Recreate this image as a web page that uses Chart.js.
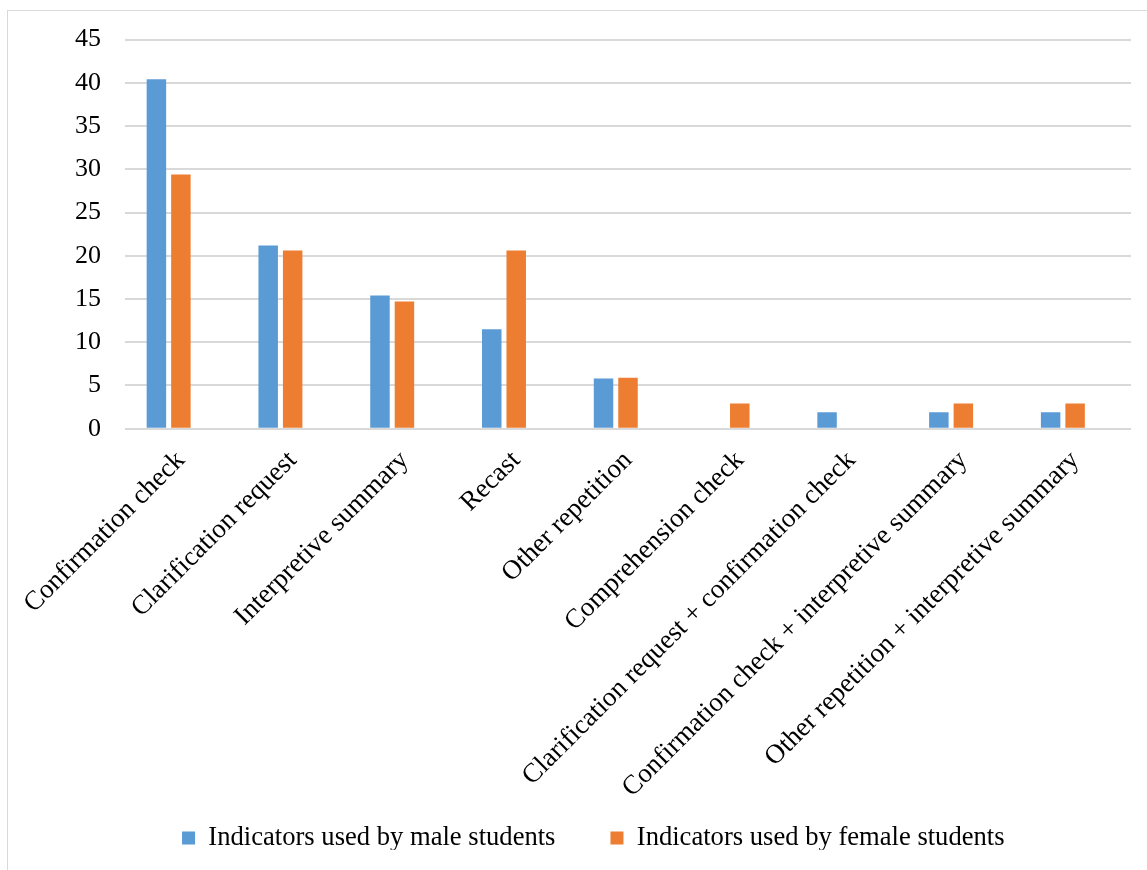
<!DOCTYPE html>
<html>
<head>
<meta charset="utf-8">
<script src="https://cdn.jsdelivr.net/npm/chart.js@4.4.1/dist/chart.umd.min.js"></script>
<style>
  html, body { margin: 0; padding: 0; background: #ffffff; overflow: hidden; }
  #frame {
    position: absolute; left: 7px; top: 10px; width: 1200px; height: 960px;
    border: 1px solid #d9d9d9; box-sizing: border-box;
  }
  #wrap { position: absolute; left: 0; top: 0; width: 1147px; height: 870px; }
</style>
</head>
<body>
<div id="frame"></div>
<div id="wrap"><canvas id="chart" width="1147" height="870"></canvas></div>
<script>
// Negotiation indicators by student gender
const categories = [
  'Confirmation check',
  'Clarification request',
  'Interpretive summary',
  'Recast',
  'Other repetition',
  'Comprehension check',
  'Clarification request + confirmation check',
  'Confirmation check + interpretive summary',
  'Other repetition + interpretive summary'
];
const maleLabel = 'Indicators used by male students';
const femaleLabel = 'Indicators used by female students';
const maleValues   = [40.4, 21.2, 15.4, 11.5, 5.8, 0, 1.9, 1.9, 1.9];
const femaleValues = [29.4, 20.6, 14.7, 20.6, 5.9, 2.9, 0, 2.9, 2.9];
// third, empty series keeps its slot in each group
const emptyValues  = [null, null, null, null, null, null, null, null, null];
const yTicks = [0, 5, 10, 15, 20, 25, 30, 35, 40, 45];

const serif = "'Liberation Serif', 'Times New Roman', serif";
const barShape = { categoryPercentage: 0.657, barPercentage: 0.796 };

new Chart(document.getElementById('chart'), {
  type: 'bar',
  data: {
    labels: categories,
    datasets: [
      Object.assign({ label: maleLabel, data: maleValues, backgroundColor: '#5b9bd5' }, barShape),
      Object.assign({ label: femaleLabel, data: femaleValues, backgroundColor: '#ed7d31' }, barShape),
      Object.assign({ label: '', data: emptyValues, backgroundColor: '#a5a5a5' }, barShape)
    ]
  },
  options: {
    responsive: false,
    animation: false,
    layout: { padding: { left: 55.6, right: 16, top: 39, bottom: 20.3 } },
    plugins: {
      tooltip: { enabled: false },
      legend: {
        position: 'bottom',
        maxHeight: 80,
        labels: {
          filter: (item) => item.datasetIndex < 2,
          boxWidth: 13,
          boxHeight: 13,
          padding: 55,
          color: '#000000',
          font: { family: serif, size: 26.6 }
        }
      }
    },
    scales: {
      x: {
        grid: { display: false },
        border: { display: false },
        ticks: {
          autoSkip: false,
          minRotation: 45,
          maxRotation: 45,
          padding: 8,
          color: '#000000',
          font: { family: serif, size: 27 }
        },
        afterFit: (scale) => {
          scale.height = 341;
          scale.paddingLeft = 0;
          scale.paddingRight = 0;
          // let the slanted labels run past the axis box into the legend band
          scale._computeLabelArea = () => undefined;
        }
      },
      y: {
        min: 0,
        max: 45,
        afterBuildTicks: (scale) => { scale.ticks = yTicks.map(v => ({ value: v })); },
        afterFit: (scale) => { scale.width = 69.4; },
        grid: { color: '#d9d9d9', lineWidth: 2, drawTicks: false },
        border: { display: false },
        ticks: {
          padding: 24,
          color: '#000000',
          font: { family: serif, size: 26 }
        }
      }
    }
  }
});
</script>
</body>
</html>
